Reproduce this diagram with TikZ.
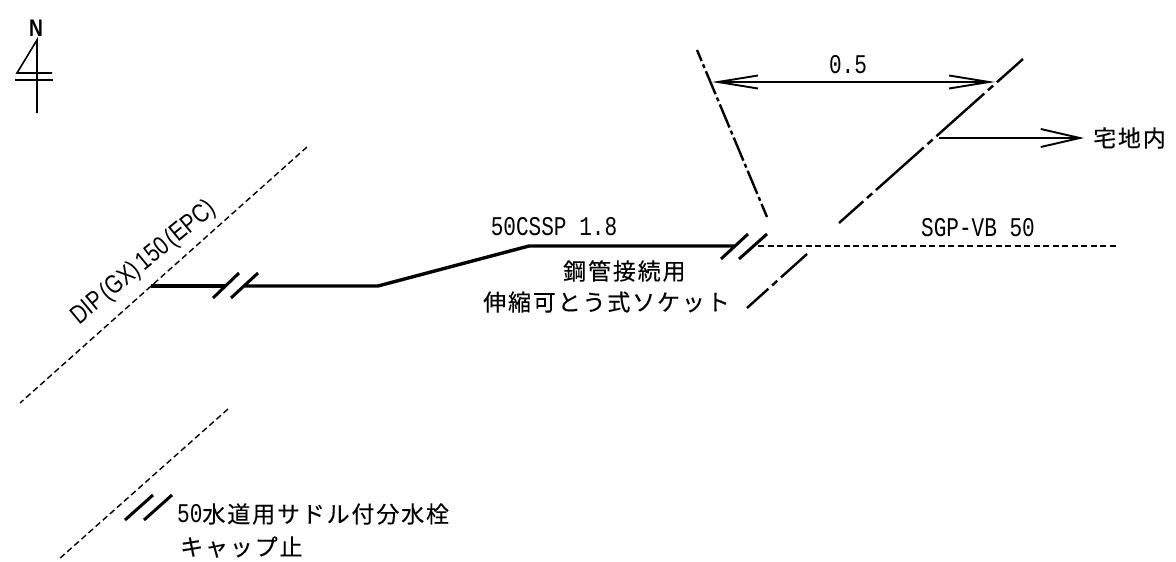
\documentclass[tikz,border=0pt]{standalone}
\usepackage{fontspec}
\usetikzlibrary{arrows.meta}
\newfontfamily\latn[FakeStretch=0.78]{Liberation Mono}
\newfontfamily\latnp[FakeStretch=0.8]{Liberation Sans}
\newfontfamily\cjk[LetterSpace=8,FakeBold=0.2]{Noto Sans CJK JP}
\tikzset{
  x=1pt,y=-1pt,
  lbl/.style={inner sep=0pt,font=\fontsize{27}{27}\selectfont\latn},
  jp/.style={inner sep=0pt,anchor=west,font=\fontsize{23}{23}\selectfont\cjk},
  thin line/.style={line width=1.6pt},
  pipe/.style={line width=3.4pt},
  brk/.style={line width=3pt},
  dashline/.style={line width=1.4pt,dash pattern=on 6pt off 3.5pt},
  chain/.style={line width=2.4pt,dash pattern=on 64pt off 5pt on 7pt off 5pt,dash phase=29pt},
  chainb/.style={line width=2.4pt,dash pattern=on 25pt off 3.5pt on 4pt off 3.5pt,dash phase=13pt},
  dimarrow/.style={line width=1.9pt,{Straight Barb[length=40pt,width=13pt,line width=1.9pt]}-{Straight Barb[length=40pt,width=13pt,line width=1.9pt]}},
  outarrow/.style={line width=1.9pt,-{Straight Barb[length=39pt,width=18pt,line width=1.9pt]}},
}
\begin{document}
\begin{tikzpicture}
\useasboundingbox (0,0) rectangle (1176,562);
\fill[white] (0,0) rectangle (1176,562);
% north
\node[inner sep=0pt,font=\fontsize{24}{24}\selectfont\bfseries\latnp] (n) at (36,28) {N};
\coordinate (na) at (37,40); \coordinate (nb) at (17,73); \coordinate (nc) at (52,73);
\coordinate (nd) at (37,113); \coordinate (ne) at (15,80); \coordinate (nf) at (53,80);
\draw[thin line] (nc)--(nb)--(na)--(nd);
\draw[thin line] (ne)--(nf);
% main pipes
\coordinate (m1) at (307,147); \coordinate (m2) at (20,403);
\draw[dashline] (m1)--(m2);
\coordinate (s1) at (228,409); \coordinate (s2) at (58,560);
\draw[dashline] (s1)--(s2);
\coordinate (p0) at (151,286); \coordinate (p1) at (226,286); \coordinate (p2) at (245,286);
\coordinate (p3) at (378,286); \coordinate (p4) at (529,246); \coordinate (p5) at (735,246);
\draw[pipe] (p0)--(p1);
\draw[pipe,line join=round] (p2)--(p3)--(p4)--(p5);
\coordinate (b1a) at (213,298); \coordinate (b1b) at (239,273);
\coordinate (b2a) at (231,298); \coordinate (b2b) at (258,273);
\draw[brk] (b1a)--(b1b); \draw[brk] (b2a)--(b2b);
\coordinate (b3a) at (721,259); \coordinate (b3b) at (748,234);
\coordinate (b4a) at (739,259); \coordinate (b4b) at (767,234);
\draw[brk] (b3a)--(b3b); \draw[brk] (b4a)--(b4b);
\coordinate (b5a) at (125,520); \coordinate (b5b) at (153,495);
\coordinate (b6a) at (144,520); \coordinate (b6b) at (172,495);
\draw[brk] (b5a)--(b5b); \draw[brk] (b6a)--(b6b);
\coordinate (d1) at (758,246); \coordinate (d2) at (1117,246);
\draw[dashline] (d1)--(d2);
% chain lines
\coordinate (c1) at (697,50); \coordinate (c2) at (767,217);
\draw[chainb] (c1)--(c2);
\coordinate (c3) at (1023,59); \coordinate (c4) at (839,223);
\draw[chain] (c3)--(c4);
\coordinate (c5) at (807,254); \coordinate (c6) at (747,308);
\draw[chain] (c5)--(c6);
% arrows
\coordinate (a1) at (712,82); \coordinate (a2) at (995,82);
\draw[dimarrow] (a1)--(a2);
\coordinate (a3) at (939,138); \coordinate (a4) at (1084,138);
\draw[outarrow] (a3)--(a4);
% labels
\node[lbl] (t05) at (848,65) {0.5};
\node[lbl] (tsgp) at (978,228) {SGP-VB 50};
\node[lbl] (tcssp) at (554,227) {50CSSP 1.8};
\node[inner sep=0pt,rotate=39.5,font=\fontsize{26}{26}\selectfont\latnp] (tdip) at (144,263) {DIP\kern3pt(GX)\kern3pt150\kern3pt(EPC)};
\node[jp] (tin) at (1093,138) {宅地内};
\node[jp] (tk1) at (563,271) {鋼管接続用};
\node[jp] (tk2) at (483,302) {伸縮可とう式ソケット};
\node[jp] (tv1) at (177,514) {{\fontsize{27}{27}\selectfont\latn 50}水道用サドル付分水栓};
\node[jp] (tv2) at (180,547) {キャップ止};
\end{tikzpicture}
\end{document}
